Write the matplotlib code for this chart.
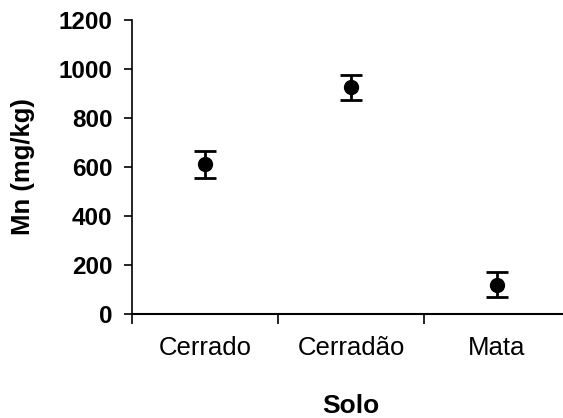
import numpy as np
import matplotlib
matplotlib.use("Agg")
import matplotlib.pyplot as plt

plt.rcParams['font.family'] = ['Liberation Sans', 'DejaVu Sans']

solos = ["Cerrado", "Cerradão", "Mata"]
mn_media = [611, 925, 120]
mn_erro = [55, 50, 50]

fig = plt.figure(figsize=(5.63, 4.18), dpi=100)
ax = fig.add_axes([132/563, 104/418, 438/563, 294/418])

x = np.arange(len(solos)) + 0.5
ax.errorbar(x, mn_media, yerr=mn_erro, fmt='o', color='black', ms=10,
            elinewidth=2, capsize=8, capthick=2)

ax.set_xlim(0, len(solos))
ax.set_ylim(0, 1200)
ax.set_yticks(np.arange(0, 1201, 200))
ax.set_xticks(x)
ax.set_xticklabels(solos, fontsize=18.5)
ax.set_xticks(np.arange(0, len(solos)), minor=True)
ax.tick_params(axis='x', which='major', length=0, pad=16)
ax.tick_params(axis='x', which='minor', length=7, width=1.2, direction='out')
ax.tick_params(axis='y', length=6, width=1.2, pad=8, labelsize=17.5)
for lab in ax.get_yticklabels():
    lab.set_fontweight('bold')

ax.spines['top'].set_visible(False)
ax.spines['right'].set_visible(False)
ax.spines['left'].set_linewidth(1.2)
ax.spines['bottom'].set_linewidth(1.5)

ax.set_ylabel("Mn (mg/kg)", fontsize=18.5, fontweight='bold', labelpad=17)
ax.set_xlabel("Solo", fontsize=19, fontweight='bold', labelpad=24)

fig.savefig("out.png", dpi=100)
